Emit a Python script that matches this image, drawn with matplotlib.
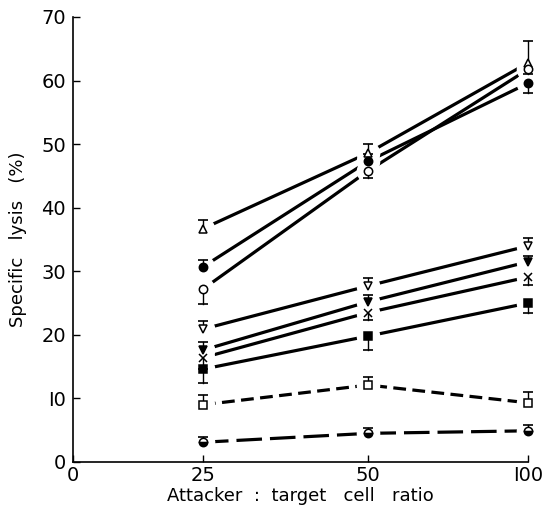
import numpy as np
import matplotlib
matplotlib.use('Agg')
import matplotlib.pyplot as plt

# attacker:target ratios
ratios = [25, 50, 100]

# specific lysis (%) for each effector group
tri_up_open = [36.7, 48.6, 62.8]
circ_filled = [30.7, 47.3, 59.6]
circ_open = [27.2, 45.8, 61.8]
tri_dn_open = [20.9, 27.7, 34.0]
tri_dn_filled = [17.6, 25.2, 31.5]
cross = [16.4, 23.5, 29.1]
sq_filled = [14.6, 19.8, 25.0]
sq_open = [9.0, 12.1, 9.3]
circ_half = [3.1, 4.5, 4.9]

# one-sided SE bars (+ up, - down)
err_tri_up_open = [1.3, 1.4, 3.4]
err_circ_filled = [1.1, 1.2, -1.6]
err_circ_open = [-2.4, -1.1, -0.8]
err_tri_dn_open = [1.2, 1.2, 1.2]
err_tri_dn_filled = [1.2, 1.0, 0.9]
err_cross = [-1.7, -1.2, -1.3]
err_sq_filled = [-2.2, -2.2, -1.6]
err_sq_open = [1.5, 1.3, 1.7]
err_circ_half = [0.8, 0.9, 0.9]

x_ticks = [0, 25, 50, 100]
x_ticklabels = ['0', '25', '50', 'I00']
y_ticks = [0, 10, 20, 30, 40, 50, 60, 70]
y_ticklabels = ['0', 'I0', '20', '30', '40', '50', '60', '70']

# the printed x axis is not linear: map tick values onto their drawn spacing
xs_data = [0, 25, 50, 100]
xs_draw = [0, 130, 295, 455]


def fwd(v):
    return np.interp(v, xs_data, xs_draw)


def inv(v):
    return np.interp(v, xs_draw, xs_data)


series = [
    (tri_up_open, err_tri_up_open, dict(marker='^', mfc='white'), '-'),
    (circ_filled, err_circ_filled, dict(marker='o', mfc='black'), '-'),
    (circ_open, err_circ_open, dict(marker='o', mfc='white'), '-'),
    (tri_dn_open, err_tri_dn_open, dict(marker='v', mfc='white'), '-'),
    (tri_dn_filled, err_tri_dn_filled, dict(marker='v', mfc='black'), '-'),
    (cross, err_cross, dict(marker='x', mfc='black'), '-'),
    (sq_filled, err_sq_filled, dict(marker='s', mfc='black'), '-'),
    (sq_open, err_sq_open, dict(marker='s', mfc='white'), (0, (4, 2))),
    (circ_half, err_circ_half, dict(marker='o', mfc='black', fillstyle='bottom',
                                    markerfacecoloralt='white'), (0, (8, 2.5))),
]

fig = plt.figure(figsize=(5.52, 5.15), dpi=100)
ax = fig.add_axes([0.132, 0.103, 0.825, 0.864])
ax.set_xscale('function', functions=(fwd, inv))

for y, err, mstyle, ls in series:
    ax.plot(ratios, y, color='black', lw=2.3, ls=ls, zorder=1,
            solid_capstyle='butt', dash_capstyle='butt')
    # white halo so the lines stop short of the symbols
    ax.plot(ratios, y, ls='none', marker='o', ms=16, mfc='white', mec='white',
            zorder=2, clip_on=False)
    for xv, yv, e in zip(ratios, y, err):
        ax.plot([xv, xv], [yv, yv + e], color='black', lw=1.0, zorder=3, clip_on=False)
        ax.plot([xv], [yv + e], marker='_', ms=7.5, mew=1.2, color='black', zorder=3,
                clip_on=False)
    ax.plot(ratios, y, ls='none', mec='black', mew=1.1, ms=6, zorder=4,
            clip_on=False, **mstyle)

ax.set_xlim(0, 100)
ax.set_ylim(0, 70)
ax.spines['top'].set_visible(False)
ax.spines['right'].set_visible(False)
for s in ['left', 'bottom']:
    ax.spines[s].set_linewidth(1.2)

ax.set_xticks(x_ticks)
ax.set_xticklabels(x_ticklabels)
ax.set_yticks(y_ticks)
ax.set_yticklabels(y_ticklabels)
ax.minorticks_off()
ax.tick_params(direction='in', length=5, width=1.0, labelsize=14, pad=5)
ax.tick_params(axis='x', pad=3)

ax.set_xlabel('Attacker  :  target   cell   ratio', fontsize=13, labelpad=1)
ax.set_ylabel('Specific   lysis   (%)', fontsize=13, labelpad=10)

fig.savefig('out.png', dpi=100)
